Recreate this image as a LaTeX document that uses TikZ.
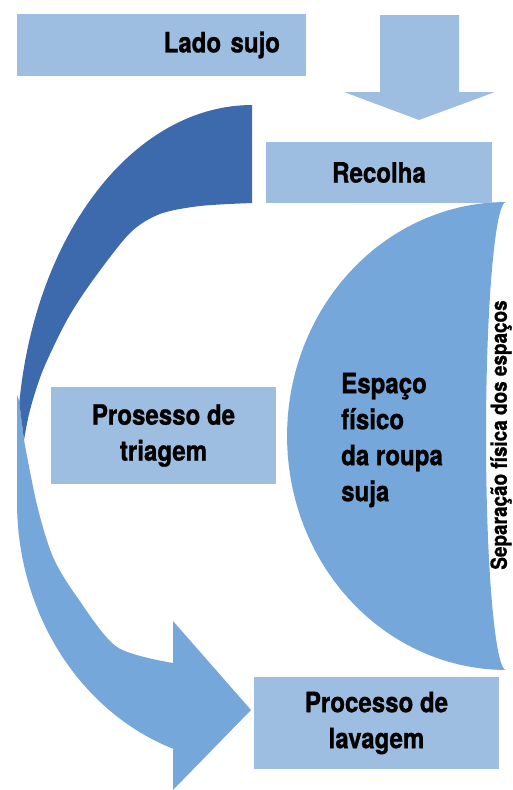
\documentclass[tikz,border=0pt]{standalone}
\usepackage{fontspec}
\setmainfont{TeX Gyre Heros}[FakeStretch=0.86, BoldFeatures={FakeBold=0.9}]
\definecolor{boxblue}{HTML}{9DBEE0}
\definecolor{darkblue}{HTML}{3D6AAD}
\definecolor{midblue}{HTML}{75A7DB}

\begin{document}
\begin{tikzpicture}[x=1pt, y=-1pt, samples=60,
  every node/.style = {font=\bfseries\fontsize{28}{36}\selectfont, align=center},
  box/.style = {shape=rectangle, fill=boxblue, inner sep=0pt}]
  \useasboundingbox (0,0) rectangle (513,790);
  \fill[midblue] (17,395) -- (17,502)
    -- plot[domain=0:70.4] ({252-235*cos(\x)},{502+262*sin(\x)})
    -- (173,790) -- (251,710) -- (173,621) -- (173,663)
    -- plot[smooth] coordinates {(173,663) (117,647) (77,597) (53,557) (37,505) (24,440)}
    -- (19,400) -- cycle;
  \fill[darkblue] plot[domain=90:172] ({252+235*cos(\x)},{451-346*sin(\x)})
    -- plot[smooth] coordinates {(24,440) (30,410) (43,370) (67,320) (93,280)
      (130,233) (160,214) (200,206) (252,203)} -- cycle;
  \fill[midblue] plot[domain=-90:90] ({506-219*cos(\x)},{436+234*sin(\x)})
    -- plot[domain=-90:90] ({506-20*cos(\x)},{436-234*sin(\x)}) -- cycle;
  \fill[boxblue] (380,15) -- (459,15) -- (459,92) -- (495,92) -- (419,120)
    -- (344,92) -- (380,92) -- cycle;
  \node[box, minimum width=289pt, minimum height=62pt, text width=237pt,
    align=right] (lado) at (161.5,45) {Lado sujo};
  \node[box, minimum width=226pt, minimum height=61pt] (recolha) at (379,172.5) {Recolha};
  \node[box, minimum width=225pt, minimum height=97pt] (triagem) at (163.5,435.5)
    {Prosesso de\\triagem};
  \node[box, minimum width=245pt, minimum height=92pt] (lavagem) at (376.5,723)
    {Processo de\\lavagem};
  \node[anchor=west, align=left, inner sep=0pt] (espaco) at (341,440)
    {Espaço\\físico\\da roupa\\suja};
  \node[rotate=90, font=\bfseries\fontsize{22}{26}\selectfont] (separacao) at (501,435)
    {Separação física dos espaços};
\end{tikzpicture}
\end{document}
